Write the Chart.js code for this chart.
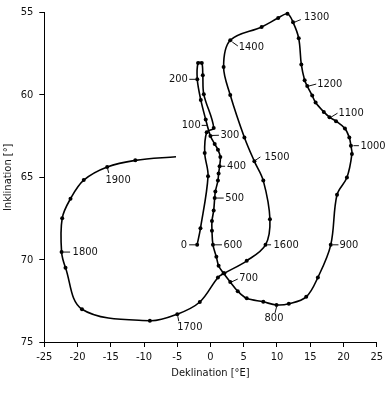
<!DOCTYPE html>
<html>
<head>
<meta charset="utf-8">
<script src="https://cdn.jsdelivr.net/npm/chart.js@4/dist/chart.umd.min.js"></script>
<style>
html,body{margin:0;padding:0;background:#fff;}
canvas{display:block;}
</style>
</head>
<body>
<canvas id="c" width="387" height="402"></canvas>
<script>
// ---- data (chronological order) ----
const declination = [
  -2.01, -1.51, -0.37, -0.87, -0.57, 0.48, -1.01, -1.16, -1.31, -1.87, -1.99, -1.46, -0.72,
  -0.01, 0.63, 1.12, 1.48, 1.37, 1.22, 1.12, 0.73, 0.63, 0.48, 0.22, 0.22,
  0.37, 0.88, 1.22, 1.97, 2.97, 4.10, 5.45, 7.94, 9.93, 11.78, 14.40, 16.15,
  18.09, 19.03, 20.52, 21.27, 21.12, 20.88, 20.22, 18.88, 17.90, 17.04, 15.81, 15.30,
  14.55, 14.16, 13.66, 13.27, 12.42, 11.57, 10.18, 7.69, 2.97, 1.97, 2.97, 5.10,
  6.60, 7.94, 8.94, 8.28, 5.45, 2.07, 1.12, -1.61, -5.00, -9.12, -19.33, -21.81,
  -22.40, -22.31, -21.06, -19.07, -15.54, -11.31, -5.19
];
const inclination = [
  69.10, 68.10, 64.93, 63.53, 62.26, 62.00, 59.96, 58.81, 58.06, 58.06, 59.05, 60.30, 61.49,
  62.49, 62.98, 63.32, 63.77, 64.33, 64.77, 65.20, 65.86, 66.26, 67.01, 67.65, 68.24,
  69.10, 69.83, 70.37, 70.83, 71.36, 71.92, 72.35, 72.56, 72.75, 72.68, 72.26, 71.08,
  69.10, 66.06, 65.01, 63.58, 63.08, 62.58, 62.03, 61.59, 61.35, 61.03, 60.46, 60.04,
  59.46, 59.11, 58.15, 56.56, 55.59, 55.07, 55.33, 55.87, 56.68, 58.31, 60.00, 62.58,
  64.03, 65.20, 67.55, 69.10, 70.07, 70.83, 71.08, 72.57, 73.31, 73.71, 73.01, 70.49,
  69.54, 67.49, 66.30, 65.17, 64.37, 63.97, 63.75
];
const yearLabels = [
  '0', '', '', '', '', '100', '', '', '', '', '200', '', '',
  '300', '', '', '', '400', '', '', '', '500', '', '', '',
  '600', '', '', '', '700', '', '', '', '800', '', '', '',
  '900', '', '', '', '1000', '', '', '', '1100', '', '', '',
  '1200', '', '', '', '1300', '', '', '', '1400', '', '', '',
  '1500', '', '', '1600', '', '', '', '', '1700', '', '', '',
  '1800', '', '', '', '1900', '', ''
];
const xTicks = [-25, -20, -15, -10, -5, 0, 5, 10, 15, 20, 25];
const yTicks = [55, 60, 65, 70, 75];

// ---- label placement (pixel offsets from the point; style only) ----
const labelLayout = {
  '0':    {tx:-10, ty:0, align:'right', t:[-8,0,-1.5,0]},
  '100':  {tx:-13, ty:-2.5, align:'right', t:[-12,-2.5,-6,-2.5]},
  '200':  {tx:-9.5, ty:0, align:'right', t:[-8,0,-1.5,0]},
  '300':  {tx:10, ty:-0.7, align:'left', t:[1.5,-0.5,8.5,-0.7]},
  '400':  {tx:7.5, ty:0, align:'left', t:[1.5,0,5.5,0]},
  '500':  {tx:10.5, ty:0, align:'left', t:[1.5,0,9,0]},
  '600':  {tx:10.5, ty:0, align:'left', t:[1.5,0,9,0]},
  '700':  {tx:9, ty:-3.5, align:'left', t:[1,0,7.5,-3]},
  '800':  {tx:-2.5, ty:13, align:'center', t:[0,2,-1.5,8]},
  '900':  {tx:8.7, ty:0, align:'left', t:[2,0,7.7,0]},
  '1000': {tx:9.5, ty:0, align:'left', t:[2.5,0,8,0]},
  '1100': {tx:9, ty:-4.3, align:'left', t:[1.5,0,8,-4]},
  '1200': {tx:10, ty:-2, align:'left', t:[1.5,0,9,-2]},
  '1300': {tx:11, ty:-5.3, align:'left', t:[1,0,7.7,-2.7]},
  '1400': {tx:8.5, ty:6.4, align:'left', t:[2,1.7,7.6,5.7]},
  '1500': {tx:10, ty:-4.4, align:'left', t:[1,-1,6,-4.4]},
  '1600': {tx:8, ty:0, align:'left', t:[2,0,5.5,0]},
  '1700': {tx:0, ty:12.7, align:'left', t:[0.5,2,1.5,7]},
  '1800': {tx:11, ty:0, align:'left', t:[1.5,0,8.5,0]},
  '1900': {tx:-1.7, ty:13.4, align:'left', t:[0.5,2,1.5,6]}
};

const FONT = "'Liberation Sans Narrow', 'DejaVu Sans Condensed', 'Noto Sans', sans-serif";
Chart.defaults.font.family = FONT;
Chart.defaults.font.size = 11;
Chart.defaults.color = '#111';

const points = declination.map((d, i) => ({x: d, y: inclination[i]}));
const radii = declination.map((d, i) => i === declination.length - 1 ? 0 : 2);

const yearLabelPlugin = {
  id: 'yearLabels',
  afterDatasetsDraw(chart) {
    const ctx = chart.ctx;
    const meta = chart.getDatasetMeta(0);
    ctx.save();
    ctx.font = '11px ' + FONT;
    ctx.fillStyle = '#111';
    ctx.strokeStyle = '#111';
    ctx.lineWidth = 1;
    ctx.textBaseline = 'middle';
    yearLabels.forEach((lab, i) => {
      if (!lab) return;
      const L = labelLayout[lab];
      const p = meta.data[i];
      ctx.beginPath();
      ctx.moveTo(p.x + L.t[0], p.y + L.t[1]);
      ctx.lineTo(p.x + L.t[2], p.y + L.t[3]);
      ctx.stroke();
      ctx.textAlign = L.align;
      ctx.fillText(lab, p.x + L.tx, p.y + L.ty);
    });
    ctx.restore();
  }
};

new Chart(document.getElementById('c'), {
  type: 'scatter',
  data: {
    datasets: [{
      data: points,
      showLine: true,
      borderColor: '#000',
      backgroundColor: '#000',
      borderWidth: 1.6,
      pointRadius: radii,
      pointHoverRadius: radii,
      pointBorderWidth: 0,
      tension: 0.35,
      clip: false
    }]
  },
  options: {
    responsive: false,
    animation: false,
    devicePixelRatio: 1,
    layout: {padding: {top: 6, right: 7.7, bottom: 20.5, left: 0}},
    plugins: {legend: {display: false}, tooltip: {enabled: false}},
    scales: {
      x: {
        type: 'linear',
        min: -25, max: 25,
        afterBuildTicks: s => { s.ticks = xTicks.map(v => ({value: v})); },
        afterFit: s => { s.height = 39.5; },
        grid: {display: true, drawOnChartArea: false, drawTicks: true, tickLength: 5, color: '#000', lineWidth: 1},
        border: {display: true, color: '#000', width: 1},
        ticks: {padding: 4, color: '#111', font: {size: 11}, maxRotation: 0},
        title: {display: true, text: 'Deklination [°E]', color: '#111', font: {size: 11}, padding: {top: 0, bottom: 2}}
      },
      y: {
        type: 'linear',
        min: 55, max: 75,
        reverse: true,
        afterBuildTicks: s => { s.ticks = yTicks.map(v => ({value: v})); },
        afterFit: s => { s.width = 44.3; },
        grid: {display: true, drawOnChartArea: false, drawTicks: true, tickLength: 5, color: '#000', lineWidth: 1},
        border: {display: true, color: '#000', width: 1},
        ticks: {padding: 6, color: '#111', font: {size: 11}},
        title: {display: true, text: 'Inklination [°]', color: '#111', font: {size: 11}, padding: {top: 2, bottom: 0}}
      }
    }
  },
  plugins: [yearLabelPlugin]
});
</script>
</body>
</html>
